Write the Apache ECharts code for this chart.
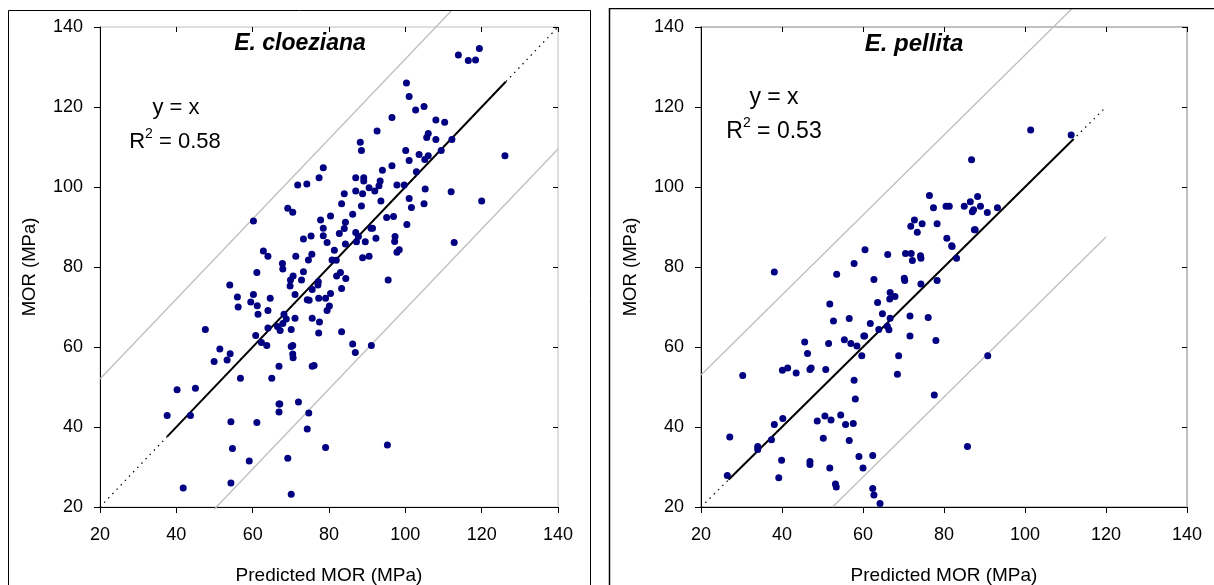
<!DOCTYPE html>
<html>
<head>
<meta charset="utf-8">
<script src="https://cdn.jsdelivr.net/npm/echarts@6/dist/echarts.min.js"></script>
<style>
html,body{margin:0;padding:0;background:#fff;}
#chart{width:1214px;height:585px;}
</style>
</head>
<body>
<div id="chart"></div>
<script>
// ---------- data ----------
const panelTitles = ['E. cloeziana', 'E. pellita'];
const r2Values = ['0.58', '0.53'];
const axisTicks = [20, 40, 60, 80, 100, 120, 140];

// E. cloeziana: [predicted MOR, MOR]
const cloezianaPts = [
[113.9,133],[116.5,131.6],[118.4,131.75],[119.4,134.6],[100.3,126],[101,122.6],[102.7,119.25],[104.9,120.1],
[96.5,117.4],[108,116.75],[110.3,116.2],[92.6,114],[106,113.4],[105.6,112.4],[108,111.9],[112.2,111.9],
[88.2,111.2],[88.5,109.1],[109.4,109.1],[126.1,107.8],[100.1,109.1],[103.6,108.1],[106,107.8],[105.1,106.9],
[101,106.6],[96.5,105.3],[94,104.2],[102.9,103.8],[78.5,104.8],[77.4,102.3],[71.8,100.5],[74.2,100.75],
[87,102.3],[89.1,102.3],[89.1,101.5],[93.4,101.5],[90.5,99.8],[93.1,100.3],[92,99],[97.8,100.5],
[99.7,100.5],[105.2,99.5],[112,98.8],[87,99],[84,98.3],[88.8,98.3],[93.6,96.5],[101,97.1],
[104.9,95.8],[120,96.5],[83.3,95.8],[88.5,95.25],[101.6,94.9],[69.2,94.7],[70.5,93.7],[86.2,93.2],
[80.4,92.75],[77.8,91.75],[95.1,92.4],[96.9,92.6],[84.3,91.2],[60.2,91.5],[100.4,90.6],[78.5,89.7],
[84,89.6],[91,89.7],[91.4,89.7],[82.7,88.4],[87,88.6],[87.7,87.6],[75.3,87.75],[78.5,87.8],
[73.3,87],[79.5,86.1],[84.3,85.75],[87.2,86.3],[89.5,86.3],[92.3,87.2],[97.3,87.6],[97.2,86.4],
[112.8,86.1],[62.8,84],[64,82.7],[71.3,82.7],[75.5,83.2],[81.4,84.2],[74.6,81.75],[80.8,81.75],
[81.9,81.7],[88.8,82.3],[90.5,82.7],[97.8,83.7],[98.4,84.3],[67.8,80.9],
[67.9,79.5],[73.3,78.8],[61.1,78.6],[70.6,77.75],[69.9,76.75],[72.8,76.75],[69.8,75.25],[54,75.5],
[77.2,76.3],[77.1,75.5],[75.6,74.4],[82,77.75],[83,78.6],[84.4,77.1],[83.3,74.6],[95.5,76.75],
[56,72.5],[60.2,73.1],[59.5,71.25],[61.2,70.3],[56.2,70],[64.6,72.2],[71.1,73.1],[74.3,71.8],
[74.8,71.7],[77.3,72.2],[79.1,72.2],[80.4,73.4],[80.1,70.25],[79.5,69.1],[64,69.1],[61.4,68.2],
[68.2,68.2],[71.1,67.2],[75.6,67.2],[68.8,67],[67.9,65.9],[77.5,66.25],[47.6,64.4],[64,64.75],
[66.5,65.1],[67.2,64.1],[70.1,64.4],[60.8,62.9],[77.3,63.5],[83.3,63.8],[62.3,61.1],[63.7,60.4],
[70.1,60.1],[70.5,60.4],[51.4,59.5],[54.1,58.3],[53.3,56.75],[49.9,56.4],[70.5,58.25],[70.6,57.3],
[86.2,60.75],[86.9,58.6],[91.1,60.4],[66.9,55.2],[75.6,55.2],[76.1,55.4],[56.8,52.2],[65,52.2],
[40.2,49.3],[45,49.7],[66.9,45.75],[67.1,45.75],[72,46.25],[66.9,43.75],[74.7,43.5],[37.6,42.9],
[43.7,42.9],[54.3,41.3],[61.1,41.1],[74.3,39.5],[54.7,34.6],[79.1,34.9],[95.3,35.5],[59.1,31.5],
[69.2,32.2],[41.8,24.75],[54.3,26],[70.1,23.2]
];

// E. pellita: [predicted MOR, MOR]
const pellitaPts = [
[101.4,114.25],[111.4,113],[86.8,106.8],[76.4,97.9],[77.4,94.8],[80.5,95.2],[81.3,95.2],[85,95.2],
[86.5,96.3],[88.3,97.6],[89,95.2],[87,93.8],[87.3,94.3],[90.7,93.6],[93.2,94.8],[72.7,91.75],
[74.6,90.8],[71.8,90.2],[73.4,88.7],[78.3,90.8],[87.5,89.3],[87.7,89.3],[80.7,87.2],[81.9,85.3],
[82,85.1],[60.5,84.3],[66.1,83.1],[70.5,83.4],[71.9,83.4],[72.2,81.6],[74.2,82.8],[74.3,82.2],
[83.1,82.2],[57.8,80.9],
[38.1,78.75],[53.5,78.2],[62.7,76.9],[70.2,77.2],[70.3,76.6],[74.3,75.75],[78.3,76.6],[66.7,73.6],
[66.6,72],[67.9,72.6],[51.8,70.75],[63.6,71.1],[64.8,68.3],[71.6,67.75],[76.1,67.4],[52.7,66.5],
[56.6,67.1],[61.8,65.9],[66.7,67.2],[63.9,64.4],[66.4,64.3],[66,65.2],[60.2,62.75],[60.4,62.75],
[71.6,62.75],[45.6,61.25],[51.5,60.9],[55.4,61.8],[57,60.9],[58.5,60.25],[78,61.6],[46.3,58.4],
[59.7,57.8],[68.8,57.8],[90.8,57.8],[30.3,52.9],[40.1,54.2],[41.4,54.75],[43.5,53.5],[46.9,54.4],
[47.2,54.75],[50.8,54.4],[68.5,53.2],[57.8,51.7],[58.1,47],[77.6,48],[27.1,37.5],[38.1,40.6],
[40.2,42.1],[48.7,41.5],[50.6,42.75],[52.1,41.75],[54.5,43],[55.7,40.6],[57.6,40.9],[37.4,36.8],
[34,35.1],[34,34.4],[50.2,37.2],[56.6,36.6],[85.8,35.1],[39.9,31.7],[46.9,31.4],[46.9,30.6],
[51.8,29.75],[59,32.6],[60,29.75],[62.4,32.9],[26.5,27.9],[39.2,27.3],[53.2,25.75],[53.4,25],
[62.4,24.6],[62.7,23],[64.2,20.9]
];

// reference lines (endpoints, data units)
const cloezianaOneToOneDotted = [[20,20],[140,140]];
const cloezianaOneToOneSolid  = [[37.6,37.6],[126.3,126.3]];
const cloezianaUpperBand      = [[20,52],[112,144]];
const cloezianaLowerBand      = [[50,19.5],[140,109.5]];

const pellitaOneToOneDotted = [[20,20],[120,120]];
const pellitaOneToOneSolid  = [[26.8,26.8],[112,112]];
const pellitaUpperBand      = [[20,53],[112,145]];
const pellitaLowerBand      = [[52.5,20],[120,87.5]];

// ---------- chart ----------
const FONT = '"Liberation Sans", Arial, sans-serif';
const chart = echarts.init(document.getElementById('chart'), null, {renderer: 'canvas'});

const grids = [
  {left: 100, top: 27, width: 458, height: 480},
  {left: 701, top: 27, width: 486, height: 480}
];

function mainX(gi) {
  return {
    type: 'value', gridIndex: gi, min: 20, max: 140, interval: 20,
    axisLine: {show: true, onZero: false, lineStyle: {color: '#000', width: 1}},
    axisTick: {show: true, inside: false, length: 6, lineStyle: {color: '#000'}},
    axisLabel: {show: true, color: '#000', fontSize: 18, fontFamily: FONT, margin: 19,
      formatter: v => axisTicks.indexOf(v) >= 0 ? String(v) : ''},
    splitLine: {show: false},
    name: 'Predicted MOR (MPa)', nameLocation: 'middle', nameGap: 59,
    nameTextStyle: {color: '#000', fontSize: 19, fontFamily: FONT}
  };
}
function innerX(gi) {
  return {
    type: 'value', gridIndex: gi, min: 20, max: 140, interval: 20,
    axisLine: {show: false}, axisLabel: {show: false}, splitLine: {show: false},
    axisTick: {show: true, inside: true, length: 5, lineStyle: {color: '#000'}}
  };
}
function mainY(gi) {
  return {
    type: 'value', gridIndex: gi, min: 20, max: 140, interval: 20,
    axisLine: {show: true, onZero: false, lineStyle: {color: '#000', width: 1}},
    axisTick: {show: true, inside: false, length: 6, lineStyle: {color: '#000'}},
    axisLabel: {show: true, color: '#000', fontSize: 18, fontFamily: FONT, margin: 17},
    splitLine: {show: false},
    name: 'MOR (MPa)', nameLocation: 'middle', nameGap: 61,
    nameTextStyle: {color: '#000', fontSize: 18.5, fontFamily: FONT}
  };
}
function innerY(gi) {
  return {
    type: 'value', gridIndex: gi, min: 20, max: 140, interval: 20,
    axisLine: {show: false}, axisLabel: {show: false}, splitLine: {show: false},
    axisTick: {show: true, inside: true, length: 5, lineStyle: {color: '#000'}}
  };
}

function lineSeries(ax, data, color, width, type, z) {
  return {
    type: 'line', xAxisIndex: ax, yAxisIndex: ax, data: data,
    showSymbol: false, symbol: 'none', silent: true, clip: false, animation: false,
    lineStyle: {color: color, width: width, type: type}, z: z
  };
}
function scatterSeries(ax, data) {
  return {
    type: 'scatter', xAxisIndex: ax, yAxisIndex: ax, data: data,
    symbol: 'circle', symbolSize: 7, animation: false,
    itemStyle: {color: '#000080', opacity: 1}, z: 10
  };
}
function r2Text(x, y, value, size) {
  return {
    type: 'text', z: 102, x: x, y: y,
    style: {
      text: '{r|R}{s|2}{r| = ' + value + '}',
      align: 'center', verticalAlign: 'middle', fill: '#000',
      rich: {
        r: {fontSize: size, fontFamily: FONT, fill: '#000', lineHeight: size + 4, verticalAlign: 'bottom'},
        s: {fontSize: Math.round(size * 0.62), fontFamily: FONT, fill: '#000', verticalAlign: 'top', lineHeight: size + 4}
      }
    }
  };
}

const option = {
  backgroundColor: '#fff',
  animation: false,
  grid: grids.map((g, i) => Object.assign({
    show: true, borderColor: '#c0c0c0', borderWidth: i === 0 ? 1 : 2,
    backgroundColor: 'transparent', containLabel: false, outerBoundsMode: 'none'
  }, g)),
  xAxis: [mainX(0), innerX(0), mainX(1), innerX(1)],
  yAxis: [mainY(0), innerY(0), mainY(1), innerY(1)],
  series: [
    lineSeries(0, cloezianaUpperBand, '#bdbdbd', 1.2, 'solid', 2),
    lineSeries(0, cloezianaLowerBand, '#bdbdbd', 1.2, 'solid', 2),
    lineSeries(0, cloezianaOneToOneDotted, '#000', 1.2, [1.5, 4.5], 3),
    lineSeries(0, cloezianaOneToOneSolid, '#000', 2, 'solid', 4),
    scatterSeries(0, cloezianaPts),
    lineSeries(2, pellitaUpperBand, '#bdbdbd', 1.2, 'solid', 2),
    lineSeries(2, pellitaLowerBand, '#bdbdbd', 1.2, 'solid', 2),
    lineSeries(2, pellitaOneToOneDotted, '#000', 1.2, [1.5, 4.5], 3),
    lineSeries(2, pellitaOneToOneSolid, '#000', 2, 'solid', 4),
    scatterSeries(2, pellitaPts)
  ],
  graphic: [
    {type: 'rect', z: 100, silent: true, shape: {x: 8.5, y: 10.5, width: 582, height: 600},
      style: {fill: 'none', stroke: '#000', lineWidth: 1}},
    {type: 'rect', z: 100, silent: true, shape: {x: 609.5, y: 8.5, width: 620, height: 600},
      style: {fill: 'none', stroke: '#000', lineWidth: 1.5}},
    {type: 'rect', z: 101, silent: true, shape: {x: 0, y: 0, width: 1214, height: 8},
      style: {fill: '#fff'}},
    {type: 'text', z: 102, x: 300, y: 44, style: {text: panelTitles[0], font: 'italic bold 23px ' + FONT, fill: '#000', align: 'center', verticalAlign: 'middle'}},
    {type: 'text', z: 102, x: 176, y: 108, style: {text: 'y = x', font: '22px ' + FONT, fill: '#000', align: 'center', verticalAlign: 'middle'}},
    r2Text(175, 140, r2Values[0], 22),
    {type: 'text', z: 102, x: 914, y: 44, style: {text: panelTitles[1], font: 'italic bold 24px ' + FONT, fill: '#000', align: 'center', verticalAlign: 'middle'}},
    {type: 'text', z: 102, x: 774, y: 98, style: {text: 'y = x', font: '23px ' + FONT, fill: '#000', align: 'center', verticalAlign: 'middle'}},
    r2Text(774, 130, r2Values[1], 23)
  ]
};
chart.setOption(option);
</script>
</body>
</html>
